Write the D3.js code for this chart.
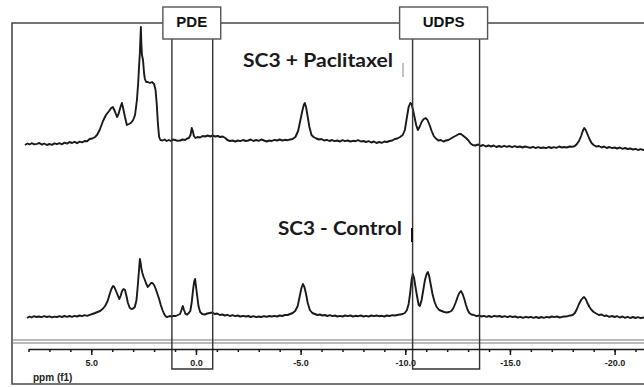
<!DOCTYPE html>
<html>
<head>
<meta charset="utf-8">
<script src="https://cdn.jsdelivr.net/npm/d3@7"></script>
<style>
  html, body { margin: 0; padding: 0; background: #fff; }
  svg { display: block; }
</style>
</head>
<body>
<svg id="chart" width="644" height="387"></svg>
<script>
// 31P NMR spectra, chemical shift (ppm) vs intensity (a.u., baseline = 0)
const paclitaxel = [
  [8.17,0],[8.05,1.5],[7.95,0.5],[7.85,1.8],[7.72,0.6],[7.6,1.2],[7.48,2],[7.36,0.4],[7.25,1.5],[7.12,0],[7.0,1],
  [6.88,0.2],[6.76,1.6],[6.64,0.8],[6.52,1.9],[6.4,0.7],[6.28,2.4],[6.16,1.4],[6.04,3],[5.92,2],[5.8,3.2],[5.68,1.8],
  [5.56,3.4],[5.44,2.6],[5.32,4],[5.2,3.8],[5.08,6],[4.95,6.5],[4.82,8],[4.73,10],[4.6,15],[4.44,24],[4.3,30],[4.15,34],
  [4.05,37],[3.97,38],[3.88,34],[3.77,28],[3.7,31],[3.62,37],[3.54,42],[3.47,36],[3.39,28],[3.3,20],[3.2,21],[3.11,22],
  [3.0,25],[2.91,30],[2.82,45],[2.76,62],[2.72,78],[2.68,92],[2.65,108],[2.63,118],[2.61,102],[2.58,90],[2.53,85],
  [2.48,72],[2.44,66],[2.38,63],[2.3,63],[2.2,62],[2.1,63],[2.0,61],[1.93,55],[1.87,40],[1.82,22],[1.76,8],[1.7,5],
  [1.6,4.5],[1.5,5.5],[1.4,4],[1.3,5],[1.2,4],[1.1,5.5],[1.0,5],[0.88,4.2],[0.76,4.5],[0.64,5.5],[0.52,5],[0.42,6.5],
  [0.34,7],[0.26,10],[0.2,17],[0.15,14],[0.1,9],[0.02,7],[-0.08,8],[-0.2,7.5],[-0.32,9],[-0.44,8.5],[-0.56,9.5],
  [-0.68,8.5],[-0.8,9.5],[-0.92,8.5],[-1.04,9],[-1.16,8],[-1.28,8.5],[-1.4,7],[-1.5,5],[-1.62,4],[-1.75,4.5],[-1.88,3.5],
  [-2.0,4.5],[-2.12,3.8],[-2.25,5],[-2.38,4],[-2.5,4.5],[-2.62,5.5],[-2.75,4],[-2.88,5],[-3.0,4.2],[-3.12,5.5],[-3.25,4.5],
  [-3.38,3.5],[-3.5,4.5],[-3.62,4],[-3.75,5.2],[-3.88,4.5],[-4.0,5.5],[-4.12,4.5],[-4.25,5.2],[-4.38,4.8],[-4.5,5.5],
  [-4.62,6],[-4.75,8],[-4.88,14],[-4.98,24],[-5.08,34],[-5.15,40],[-5.2,42],[-5.26,38],[-5.34,28],[-5.42,18],[-5.52,10],
  [-5.62,8],[-5.75,6.5],[-5.88,5.5],[-6.0,6],[-6.12,4.5],[-6.25,5.2],[-6.38,4],[-6.5,5],[-6.62,3.8],[-6.75,4.5],[-6.88,3.5],
  [-7.0,4.8],[-7.12,3.8],[-7.25,4.5],[-7.38,3.5],[-7.5,4.2],[-7.62,3.8],[-7.75,4.8],[-7.88,3.5],[-8.0,4],[-8.12,3],
  [-8.25,3.8],[-8.38,2.5],[-8.5,3.5],[-8.62,2],[-8.75,3],[-8.88,2.2],[-9.0,3.5],[-9.12,3],[-9.25,4],[-9.38,4.5],[-9.5,6],
  [-9.62,6.5],[-9.75,8],[-9.88,10],[-9.98,15],[-10.08,28],[-10.16,38],[-10.24,42],[-10.3,41],[-10.36,36],[-10.44,28],
  [-10.52,20],[-10.6,15],[-10.68,18],[-10.78,23],[-10.88,26],[-10.98,27],[-11.06,25],[-11.16,20],[-11.26,14],[-11.36,9],
  [-11.46,6.5],[-11.58,4.5],[-11.7,5],[-11.82,3.5],[-11.94,4.5],[-12.06,5],[-12.18,6.5],[-12.3,8],[-12.44,9.5],[-12.56,11],
  [-12.66,11],[-12.78,9],[-12.9,7],[-13.02,4.5],[-13.12,1.5],[-13.22,0],[-13.35,-0.5],[-13.48,0.5],[-13.6,-1],[-13.72,0],
  [-13.85,-1.5],[-13.98,-0.5],[-14.1,-1.5],[-14.22,-0.5],[-14.35,-2],[-14.48,-1],[-14.6,-2],[-14.72,-0.8],[-14.85,-1.8],
  [-14.98,-1],[-15.1,-2.2],[-15.22,-1.2],[-15.35,-2],[-15.48,-1.5],[-15.6,-2.5],[-15.72,-1.5],[-15.85,-2.2],[-15.98,-2.8],
  [-16.1,-1.8],[-16.22,-3],[-16.35,-2.2],[-16.48,-3],[-16.6,-2.5],[-16.72,-3.2],[-16.85,-2],[-16.98,-3],[-17.1,-2.2],
  [-17.22,-2.8],[-17.35,-1.5],[-17.48,-2.5],[-17.6,-2],[-17.72,-2.5],[-17.85,-1.5],[-17.98,-1.8],[-18.1,-1],[-18.2,1],
  [-18.3,4],[-18.4,9],[-18.48,14],[-18.55,17],[-18.62,15],[-18.7,11],[-18.8,6],[-18.9,2],[-19.0,0],[-19.12,-1.5],
  [-19.25,-1],[-19.38,-2.5],[-19.5,-1.5],[-19.62,-3],[-19.75,-2],[-19.88,-3.2],[-20.0,-2.5],[-20.12,-3.5],[-20.25,-2.5],
  [-20.38,-3.8],[-20.5,-3],[-20.62,-4],[-20.75,-3.5],[-20.88,-4.5],[-21.0,-3.8],[-21.12,-5],[-21.25,-4.2],[-21.38,-5],[-21.5,-4.5]
];

const control = [
  [8.07,0],[7.95,1.5],[7.85,0.5],[7.75,1.8],[7.62,1],[7.5,1.5],[7.38,0.8],[7.25,1.8],[7.12,1],[7.0,1.6],[6.88,0.6],
  [6.76,1.4],[6.64,1],[6.52,1.8],[6.4,1],[6.28,2],[6.16,1.2],[6.04,2],[5.92,1.2],[5.8,2.2],[5.68,1.5],[5.56,2.5],
  [5.44,1.8],[5.32,2.8],[5.2,2.2],[5.08,3.2],[4.95,4],[4.82,5],[4.7,6],[4.58,7],[4.46,9],[4.34,12],[4.22,17],[4.12,24],
  [4.04,29],[3.96,32],[3.9,31],[3.82,27],[3.74,23],[3.66,19],[3.6,22],[3.53,27],[3.46,29],[3.39,28],[3.32,22],[3.25,15],
  [3.16,10],[3.08,9],[3.0,9.5],[2.92,11],[2.84,18],[2.78,32],[2.72,48],[2.68,59],[2.65,56],[2.61,50],[2.56,45],[2.5,41],
  [2.44,38],[2.37,34],[2.3,31],[2.22,33],[2.14,35],[2.08,35],[2.0,33],[1.92,29],[1.84,24],[1.76,19],[1.68,13],[1.6,8],
  [1.52,4],[1.44,1.5],[1.36,1],[1.26,2],[1.16,1.5],[1.06,2.2],[0.96,2],[0.86,3],[0.76,4],[0.69,8],[0.63,12],[0.57,8],
  [0.5,4],[0.42,3.5],[0.34,5],[0.27,7],[0.2,16],[0.14,28],[0.08,37],[0.04,39],[0.0,32],[-0.06,22],[-0.12,12],[-0.2,6],
  [-0.3,4],[-0.42,3.5],[-0.54,4.5],[-0.66,5],[-0.78,5.5],[-0.9,4],[-1.02,4.5],[-1.14,3],[-1.26,3.5],[-1.38,2.5],
  [-1.5,3.2],[-1.62,2],[-1.75,2.8],[-1.88,1.8],[-2.0,2.5],[-2.12,1.5],[-2.25,2.2],[-2.38,1.5],[-2.5,2],[-2.62,1],
  [-2.75,1.8],[-2.88,0.8],[-3.0,1.5],[-3.12,1],[-3.25,1.8],[-3.38,1.2],[-3.5,2],[-3.62,1.5],[-3.75,2.2],[-3.88,1.5],
  [-4.0,2.5],[-4.12,2],[-4.25,3],[-4.38,3],[-4.5,4],[-4.62,5],[-4.74,7],[-4.86,12],[-4.96,22],[-5.04,30],[-5.11,34],
  [-5.18,31],[-5.26,24],[-5.34,15],[-5.44,8],[-5.56,5],[-5.68,4],[-5.8,3],[-5.92,3.5],[-6.04,2.5],[-6.16,3],[-6.28,2],
  [-6.4,2.8],[-6.52,1.8],[-6.64,2.5],[-6.76,1.5],[-6.88,2.2],[-7.0,1.5],[-7.12,2.5],[-7.25,1.8],[-7.38,2.5],[-7.5,1.5],
  [-7.62,2.2],[-7.75,1.8],[-7.88,2.5],[-8.0,1.5],[-8.12,2.2],[-8.25,1.5],[-8.38,2.5],[-8.5,1.8],[-8.62,2.5],[-8.75,1.8],
  [-8.88,2.2],[-9.0,1.5],[-9.12,2.5],[-9.25,2],[-9.38,2.8],[-9.5,2.5],[-9.62,3],[-9.75,3.5],[-9.88,4],[-9.98,5],
  [-10.08,8],[-10.16,14],[-10.24,26],[-10.3,38],[-10.36,44],[-10.42,40],[-10.48,32],[-10.56,22],[-10.64,13],[-10.7,12],
  [-10.78,18],[-10.86,28],[-10.94,38],[-11.02,44],[-11.08,46],[-11.14,42],[-11.22,33],[-11.3,24],[-11.4,16],[-11.5,11],
  [-11.62,8],[-11.74,7],[-11.86,6],[-11.98,5.5],[-12.1,6],[-12.2,7],[-12.3,10],[-12.4,15],[-12.5,21],[-12.58,25],
  [-12.66,27],[-12.74,24],[-12.82,19],[-12.9,13],[-12.98,8],[-13.06,5],[-13.16,3.5],[-13.28,3],[-13.4,1.8],[-13.52,2.5],
  [-13.64,1.5],[-13.76,2.2],[-13.88,1.2],[-14.0,2],[-14.12,1],[-14.25,2.2],[-14.38,1.5],[-14.5,2],[-14.62,1],[-14.75,1.8],
  [-14.88,0.8],[-15.0,1.8],[-15.12,1],[-15.25,1.5],[-15.38,0.5],[-15.5,1.2],[-15.62,0.2],[-15.75,1.2],[-15.88,0.5],
  [-16.0,1.2],[-16.12,0.2],[-16.25,1],[-16.38,0],[-16.5,1],[-16.62,0.2],[-16.75,1.2],[-16.88,0.5],[-17.0,1.5],[-17.12,0.8],
  [-17.25,1.5],[-17.38,0.5],[-17.5,1.2],[-17.62,1.5],[-17.75,1.8],[-17.88,2.5],[-18.0,3],[-18.1,5],[-18.2,9],[-18.3,14],
  [-18.4,18],[-18.48,20],[-18.54,21],[-18.62,19],[-18.7,15],[-18.8,11],[-18.9,8],[-19.0,6],[-19.12,4.5],[-19.25,3],
  [-19.38,3.5],[-19.5,2],[-19.62,2.5],[-19.75,1.2],[-19.88,2],[-20.0,1],[-20.12,1.8],[-20.25,0.5],[-20.38,1.5],[-20.5,0.2],
  [-20.62,1.2],[-20.75,0],[-20.88,1],[-21.0,0],[-21.12,0.8],[-21.25,-0.2],[-21.38,0.5],[-21.5,0]
];

const spectrumLabels = ['SC3 + Paclitaxel', 'SC3 - Control'];
const regionNames = ['PDE', 'UDPS'];
const regionRanges = [[1.15, -0.8], [-10.35, -13.55]];
const majorTicks = [5, 0, -5, -10, -15, -20];
const minorTicks = [8, 7, 6, 5, 4, 3, 2, 1, 0, -1, -2, -3, -4, -5, -6, -7, -8, -9, -10,
  -11, -12, -13, -14, -15, -16, -17, -18, -19, -20, -21];
const axisTitle = 'ppm (f1)';

// layout
const svg = d3.select('#chart');
const frame = { left: 12, top: 23, right: 646, bottom: 384, sep: 340 };
const axisY = 349;
const offsets = [173, 0]; // vertical stacking of the two spectra (a.u.)

const x = d3.scaleLinear().domain([8, -21.5]).range([28.5, 646]);
const y = d3.scaleLinear().domain([0, 300]).range([318, 18]);

const ink = '#1a1a1a';
const frameInk = '#4a4a4a';

// spectra
const line = d3.line().x(d => x(d[0])).y(d => y(d[1]));
[paclitaxel, control].forEach((s, i) => {
  svg.append('path')
    .datum(s.map(d => [d[0], d[1] + offsets[i]]))
    .attr('d', line)
    .attr('fill', 'none')
    .attr('stroke', ink)
    .attr('stroke-width', 1.9)
    .attr('stroke-linejoin', 'round');
});

// outer frame
svg.append('path')
  .attr('d', `M${frame.right},${frame.top}H${frame.left}V${frame.bottom}H${frame.right}`)
  .attr('fill', 'none')
  .attr('stroke', frameInk)
  .attr('stroke-width', 1.6);
[frame.sep, frame.sep + 3].forEach(yy => {
  svg.append('line')
    .attr('x1', frame.left).attr('x2', frame.right)
    .attr('y1', yy).attr('y2', yy)
    .attr('stroke', '#777').attr('stroke-width', 1.1);
});

// integration regions with label boxes
regionNames.forEach((name, i) => {
  const x0 = x(regionRanges[i][0]);
  const x1 = x(regionRanges[i][1]);
  svg.append('path')
    .attr('d', `M${x0},39V369H${x1}V39`)
    .attr('fill', 'none')
    .attr('stroke', '#333')
    .attr('stroke-width', 1.4);
  const bx0 = x0 - (i === 0 ? 9 : 13);
  const bx1 = x1 + 8;
  svg.append('rect')
    .attr('x', bx0).attr('y', 7)
    .attr('width', bx1 - bx0).attr('height', 32)
    .attr('fill', '#fff')
    .attr('stroke', '#555')
    .attr('stroke-width', 1.4);
  svg.append('text')
    .attr('x', (bx0 + bx1) / 2)
    .attr('y', 27)
    .attr('text-anchor', 'middle')
    .attr('font-family', 'Liberation Sans Narrow, Liberation Sans, Arial, sans-serif')
    .attr('font-weight', 'bold')
    .attr('font-size', 15)
    .attr('fill', '#111')
    .text(name);
});

// spectrum labels
const labelPos = [[243, 67, 150], [278, 235, 124]];
spectrumLabels.forEach((t, i) => {
  svg.append('text')
    .attr('x', labelPos[i][0])
    .attr('y', labelPos[i][1])
    .attr('textLength', labelPos[i][2])
    .attr('lengthAdjust', 'spacingAndGlyphs')
    .attr('font-family', 'Lato, "Open Sans", sans-serif')
    .attr('font-weight', 'bold')
    .attr('font-size', 19)
    .attr('fill', '#1a1a1a')
    .text(t);
});
// small cursor marks next to the labels
svg.append('line').attr('x1', 403).attr('x2', 403).attr('y1', 63).attr('y2', 77)
  .attr('stroke', '#888').attr('stroke-width', 1);
svg.append('line').attr('x1', 412).attr('x2', 412).attr('y1', 228).attr('y2', 242)
  .attr('stroke', '#111').attr('stroke-width', 2);

// ppm axis
const minorAxis = svg.append('g')
  .attr('transform', `translate(0,${axisY})`)
  .call(d3.axisBottom(x).tickValues(minorTicks).tickSize(3).tickSizeOuter(0).tickFormat(''));
minorAxis.select('.domain').attr('stroke', ink).attr('stroke-width', 1.5);
minorAxis.selectAll('line').attr('stroke', ink).attr('stroke-width', 1.5);

const majorAxis = svg.append('g')
  .attr('transform', `translate(0,${axisY})`)
  .call(d3.axisBottom(x).tickValues(majorTicks).tickSize(6).tickSizeOuter(0)
    .tickPadding(5).tickFormat(d => d.toFixed(1)));
majorAxis.select('.domain').remove();
majorAxis.selectAll('line').attr('stroke', ink).attr('stroke-width', 1.5);
majorAxis.selectAll('text')
  .attr('font-family', 'Liberation Sans Narrow, Liberation Sans, Arial, sans-serif')
  .attr('font-weight', 'bold')
  .attr('font-size', 9)
  .attr('fill', '#222');

svg.append('text')
  .attr('x', 33)
  .attr('y', 381)
  .attr('font-family', 'Liberation Sans Narrow, Liberation Sans, Arial, sans-serif')
  .attr('font-weight', 'bold')
  .attr('font-size', 10)
  .attr('fill', '#222')
  .text(axisTitle);
</script>
</body>
</html>
